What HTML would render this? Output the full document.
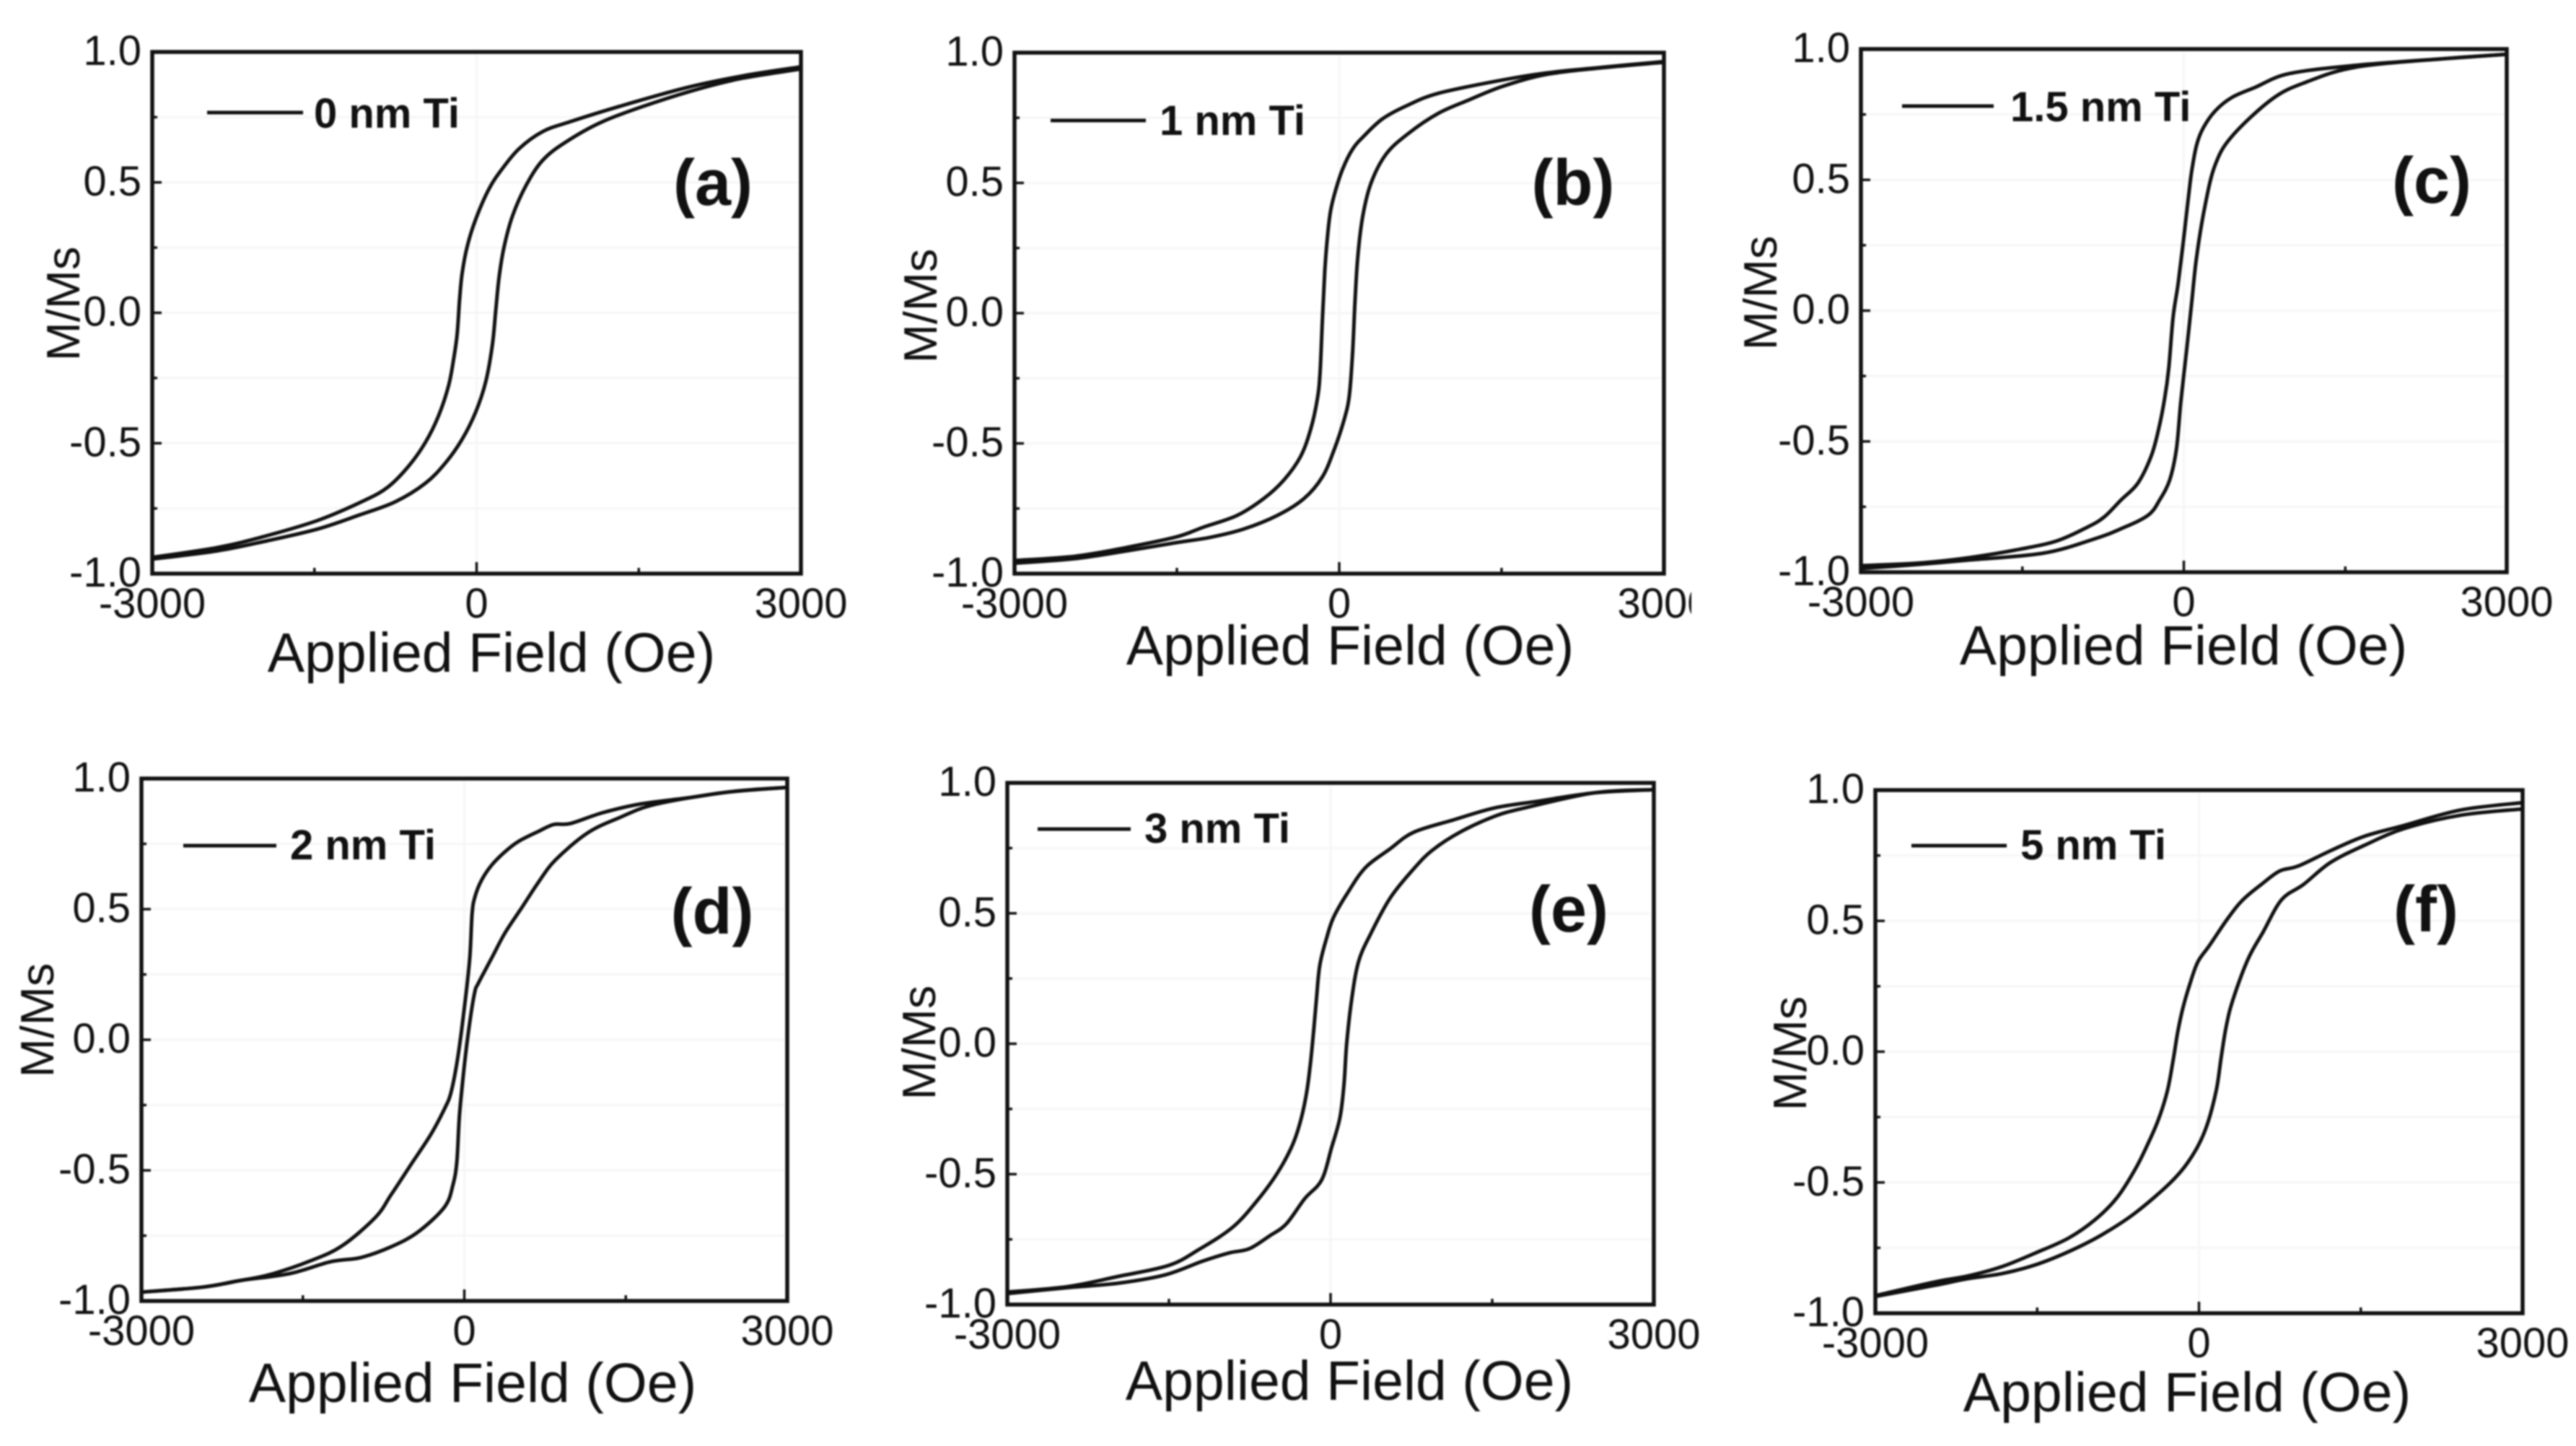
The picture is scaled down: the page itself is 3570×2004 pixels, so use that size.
<!DOCTYPE html>
<html lang="en">
<head>
<meta charset="utf-8">
<title>Hysteresis loops versus Ti thickness</title>
<style>
html,body{margin:0;padding:0;background:#fff;width:3570px;height:2004px;overflow:hidden}
svg{display:block;filter:blur(1.1px)}
text{font-family:"Liberation Sans",sans-serif;fill:#111}
</style>
</head>
<body>
<svg id="figure" xmlns="http://www.w3.org/2000/svg" width="3570" height="2004" viewBox="0 0 3570 2004"></svg>
<script>
// Shared axis data
const xTickValues = [-3000, 0, 3000];
const xTickLabels = ['-3000', '0', '3000'];
const xMinorValues = [-1500, 1500];
const yTickValues = [1, 0.5, 0, -0.5, -1];
const yTickLabels = ['1.0', '0.5', '0.0', '-0.5', '-1.0'];
const yMinorValues = [0.75, 0.25, -0.25, -0.75];
const gridValues = [0.75, 0.5, 0.25, 0, -0.25, -0.5, -0.75];

// Panel (a) 0 nm Ti
const fieldUpperA = [3000,2470,1948,1327,861,612,395,239,115,-9,-87,-134,-158,-180,-211,-258,-351,-475,-631,-817,-1035,-1470,-1998,-2402,-3000];
const momentUpperA = [0.943,0.909,0.864,0.792,0.732,0.695,0.63,0.553,0.475,0.358,0.254,0.15,0.047,-0.083,-0.174,-0.278,-0.394,-0.498,-0.589,-0.667,-0.719,-0.796,-0.861,-0.9,-0.938];
const fieldLowerA = [-3000,-2402,-1936,-1470,-1097,-755,-475,-289,-134,-9,84,146,177,208,255,332,457,612,830,1171,1637,2103,2470,3000];
const momentLowerA = [-0.944,-0.913,-0.874,-0.829,-0.777,-0.725,-0.654,-0.576,-0.485,-0.381,-0.265,-0.122,0.008,0.137,0.254,0.371,0.488,0.585,0.656,0.734,0.805,0.864,0.9,0.935];

// Panel (b) 1 nm Ti
const fieldUpperB = [3000,2430,1908,1443,915,636,403,233,124,31,-31,-78,-109,-133,-155,-177,-202,-264,-357,-512,-698,-946,-1257,-1505,-1970,-2436,-3000];
const momentUpperB = [0.966,0.944,0.922,0.89,0.844,0.799,0.747,0.682,0.63,0.553,0.475,0.397,0.293,0.163,-0.018,-0.226,-0.329,-0.446,-0.55,-0.641,-0.712,-0.777,-0.822,-0.859,-0.9,-0.933,-0.95];
const fieldLowerB = [-3000,-2436,-1970,-1505,-1195,-884,-574,-326,-155,-47,47,93,124,146,171,217,295,434,636,915,1195,1505,1908,2430,3000];
const momentLowerB = [-0.96,-0.942,-0.913,-0.881,-0.861,-0.829,-0.777,-0.712,-0.628,-0.524,-0.407,-0.316,-0.148,0.047,0.215,0.371,0.501,0.611,0.689,0.767,0.818,0.87,0.916,0.942,0.963];

// Panel (c) 1.5 nm Ti
const fieldUpperC = [3000,2437,1601,977,665,446,290,181,119,72,41,-6,-53,-100,-140,-178,-234,-303,-428,-584,-740,-896,-1177,-1520,-1988,-2456,-3000];
const momentUpperC = [0.98,0.964,0.938,0.906,0.854,0.815,0.763,0.699,0.634,0.53,0.427,0.259,0.103,-0.026,-0.22,-0.336,-0.453,-0.556,-0.66,-0.724,-0.789,-0.828,-0.88,-0.912,-0.944,-0.965,-0.975];
const fieldLowerC = [-3000,-2456,-1988,-1301,-833,-584,-334,-225,-131,-69,-28,25,72,119,197,290,446,821,1133,1601,2437,3000];
const momentLowerC = [-0.986,-0.97,-0.953,-0.927,-0.873,-0.834,-0.783,-0.724,-0.647,-0.53,-0.349,-0.155,0.026,0.207,0.401,0.556,0.666,0.809,0.873,0.931,0.964,0.98];

// Panel (d) 2 nm Ti
const fieldUpperD = [3000,2462,2094,1626,1283,986,830,690,502,378,253,159,97,72,50,3,-59,-122,-184,-309,-496,-683,-824,-1136,-1433,-1807,-2072,-2431,-3000];
const momentUpperD = [0.966,0.949,0.927,0.902,0.869,0.828,0.824,0.798,0.759,0.72,0.668,0.61,0.545,0.481,0.312,0.131,-0.063,-0.199,-0.264,-0.361,-0.478,-0.595,-0.679,-0.789,-0.847,-0.899,-0.921,-0.947,-0.966];
const fieldLowerD = [-3000,-2431,-2072,-1620,-1245,-964,-683,-434,-184,-106,-69,-44,3,50,97,128,253,378,534,690,846,1142,1439,1782,2462,3000];
const momentLowerD = [-0.966,-0.947,-0.921,-0.895,-0.85,-0.834,-0.793,-0.737,-0.64,-0.556,-0.465,-0.284,-0.089,0.066,0.183,0.215,0.312,0.409,0.506,0.604,0.688,0.791,0.85,0.902,0.949,0.966];

// Panel (e) 3 nm Ti
const fieldUpperE = [3000,2451,1927,1522,1147,773,555,321,150,25,-37,-100,-131,-156,-187,-224,-287,-365,-505,-692,-910,-1222,-1503,-1971,-2438,-3000];
const momentUpperE = [0.974,0.962,0.93,0.904,0.859,0.811,0.748,0.674,0.573,0.482,0.405,0.301,0.171,0.054,-0.075,-0.192,-0.309,-0.399,-0.503,-0.607,-0.704,-0.789,-0.85,-0.892,-0.931,-0.952];
const fieldLowerE = [-3000,-2438,-1971,-1534,-1191,-942,-755,-567,-412,-240,-84,9,87,125,150,196,259,368,555,773,945,1210,1522,1802,2451,3000];
const momentLowerE = [-0.958,-0.935,-0.918,-0.886,-0.834,-0.802,-0.786,-0.737,-0.691,-0.594,-0.523,-0.399,-0.283,-0.153,0.003,0.171,0.314,0.418,0.56,0.671,0.742,0.813,0.872,0.904,0.962,0.974];

// Panel (f) 5 nm Ti
const fieldUpperF = [3000,2426,1903,1529,1218,922,750,595,408,268,97,-12,-90,-153,-199,-240,-293,-371,-464,-589,-760,-962,-1211,-1523,-1834,-2146,-2457,-3000];
const momentUpperF = [0.952,0.924,0.865,0.823,0.768,0.71,0.691,0.645,0.581,0.51,0.406,0.342,0.251,0.16,0.07,-0.034,-0.15,-0.254,-0.344,-0.448,-0.558,-0.642,-0.713,-0.771,-0.823,-0.858,-0.881,-0.933];
const fieldLowerF = [-3000,-2457,-2146,-1834,-1523,-1211,-900,-589,-246,-59,65,159,206,252,315,455,595,766,968,1218,1529,1903,2426,3000];
const momentLowerF = [-0.936,-0.894,-0.868,-0.849,-0.816,-0.765,-0.7,-0.616,-0.493,-0.396,-0.292,-0.15,-0.021,0.096,0.199,0.354,0.458,0.581,0.639,0.723,0.788,0.853,0.904,0.928];

const panelLetters = ['a', 'b', 'c', 'd', 'e', 'f'];
const legendLabels = ['0 nm Ti', '1 nm Ti', '1.5 nm Ti', '2 nm Ti', '3 nm Ti', '5 nm Ti'];
const seriesUpperField = [fieldUpperA, fieldUpperB, fieldUpperC, fieldUpperD, fieldUpperE, fieldUpperF];
const seriesUpperMoment = [momentUpperA, momentUpperB, momentUpperC, momentUpperD, momentUpperE, momentUpperF];
const seriesLowerField = [fieldLowerA, fieldLowerB, fieldLowerC, fieldLowerD, fieldLowerE, fieldLowerF];
const seriesLowerMoment = [momentLowerA, momentLowerB, momentLowerC, momentLowerD, momentLowerE, momentLowerF];

// Page layout for each panel (not data)
const layouts = [
  {l:211, r:1110, t:72, b:795, tx:681, ty:931, yx:110, yy:421, lx1:287, lx2:420, ly:156, ltx:435, lty:177, px:988, py:284},
  {l:1406, r:2306, t:73, b:795, tx:1871, ty:921, yx:1298, yy:424, lx1:1456, lx2:1588, ly:167, ltx:1607, lty:187, px:2180, py:284},
  {l:2579, r:3474, t:68, b:793, tx:3026, ty:921, yx:2462, yy:406, lx1:2636, lx2:2763, ly:147, ltx:2786, lty:168, px:3370, py:281},
  {l:196, r:1091, t:1079, b:1803, tx:655, ty:1943, yx:74, yy:1414, lx1:254, lx2:383, ly:1172, ltx:402, lty:1191, px:987, py:1294},
  {l:1396, r:2292, t:1085, b:1808, tx:1870, ty:1940, yx:1296, yy:1445, lx1:1438, lx2:1567, ly:1149, ltx:1586, lty:1168, px:2174, py:1291},
  {l:2599, r:3496, t:1095, b:1820, tx:3031, ty:1956, yx:2503, yy:1460, lx1:2649, lx2:2781, ly:1172, ltx:2800, lty:1191, px:3362, py:1291}
];

const NS = 'http://www.w3.org/2000/svg';
const figure = document.getElementById('figure');

function make(parent, tag) {
  const el = document.createElementNS(NS, tag);
  parent.appendChild(el);
  return el;
}
function setLine(el, x1, y1, x2, y2, color, width) {
  el.setAttribute('x1', x1);
  el.setAttribute('y1', y1);
  el.setAttribute('x2', x2);
  el.setAttribute('y2', y2);
  el.setAttribute('stroke', color);
  el.setAttribute('stroke-width', width);
}
function setText(el, x, y, size, anchor, weight, content) {
  el.setAttribute('x', x);
  el.setAttribute('y', y);
  el.setAttribute('font-size', size);
  el.setAttribute('text-anchor', anchor);
  el.setAttribute('font-weight', weight);
  el.textContent = content;
}
function smoothPath(points) {
  let d = 'M' + points[0][0].toFixed(1) + ' ' + points[0][1].toFixed(1);
  for (let i = 0; i < points.length - 1; i++) {
    const p0 = points[Math.max(0, i - 1)];
    const p1 = points[i];
    const p2 = points[i + 1];
    const p3 = points[Math.min(points.length - 1, i + 2)];
    const c1x = p1[0] + (p2[0] - p0[0]) / 6;
    const c1y = p1[1] + (p2[1] - p0[1]) / 6;
    const c2x = p2[0] - (p3[0] - p1[0]) / 6;
    const c2y = p2[1] - (p3[1] - p1[1]) / 6;
    d += 'C' + c1x.toFixed(1) + ' ' + c1y.toFixed(1) + ' ' + c2x.toFixed(1) + ' ' + c2y.toFixed(1) + ' ' + p2[0].toFixed(1) + ' ' + p2[1].toFixed(1);
  }
  return d;
}

panelLetters.forEach(function (letter, index) {
  const box = layouts[index];
  const xScale = function (v) { return box.l + (v + 3000) / 6000 * (box.r - box.l); };
  const yScale = function (v) { return box.b - (v + 1) / 2 * (box.b - box.t); };

  const panel = make(figure, 'g');
  
  

  gridValues.forEach(function (value) {
    const grid = make(panel, 'line');
    
    
    setLine(grid, box.l + 4, yScale(value), box.r - 4, yScale(value), '#f6f6f6', 3);
  });
  const zeroGrid = make(panel, 'line');
  
  
  setLine(zeroGrid, xScale(0), box.t + 4, xScale(0), box.b - 4, '#f6f6f6', 3);

  const upper = make(panel, 'path');
  
  
  upper.setAttribute('d', smoothPath(seriesUpperField[index].map(function (f, i) {
    return [xScale(f), yScale(seriesUpperMoment[index][i])];
  })));
  upper.setAttribute('fill', 'none');
  upper.setAttribute('stroke', '#111');
  upper.setAttribute('stroke-width', '5');
  upper.setAttribute('stroke-linejoin', 'round');

  const lower = make(panel, 'path');
  
  
  lower.setAttribute('d', smoothPath(seriesLowerField[index].map(function (f, i) {
    return [xScale(f), yScale(seriesLowerMoment[index][i])];
  })));
  lower.setAttribute('fill', 'none');
  lower.setAttribute('stroke', '#111');
  lower.setAttribute('stroke-width', '5');
  lower.setAttribute('stroke-linejoin', 'round');

  const frame = make(panel, 'rect');
  
  
  frame.setAttribute('x', box.l);
  frame.setAttribute('y', box.t);
  frame.setAttribute('width', box.r - box.l);
  frame.setAttribute('height', box.b - box.t);
  frame.setAttribute('fill', 'none');
  frame.setAttribute('stroke', '#111');
  frame.setAttribute('stroke-width', '5.5');

  yTickValues.forEach(function (value, i) {
    const tick = make(panel, 'line');
    
    
    setLine(tick, box.l, yScale(value), box.l + 13, yScale(value), '#111', 3.5);
    const label = make(panel, 'text');
    
    
    setText(label, box.l - 15, yScale(value) + 18, 58, 'end', 'normal', yTickLabels[i]);
  });
  yMinorValues.forEach(function (value) {
    const tick = make(panel, 'line');
    
    
    setLine(tick, box.l, yScale(value), box.l + 7, yScale(value), '#111', 3.5);
  });
  xTickValues.forEach(function (value, i) {
    const tick = make(panel, 'line');
    
    
    setLine(tick, xScale(value), box.b, xScale(value), box.b - 16, '#111', 3.5);
    const label = make(panel, 'text');
    
    
    setText(label, xScale(value), box.b + 61, 58, 'middle', 'normal', xTickLabels[i]);
  });
  xMinorValues.forEach(function (value) {
    const tick = make(panel, 'line');
    
    
    setLine(tick, xScale(value), box.b, xScale(value), box.b - 8, '#111', 3.5);
  });

  const xTitle = make(panel, 'text');
  
  
  setText(xTitle, box.tx, box.ty, 77, 'middle', 'normal', 'Applied Field (Oe)');

  const yTitle = make(panel, 'text');
  
  
  setText(yTitle, 0, 0, 65, 'middle', 'normal', 'M/Ms');
  yTitle.setAttribute('transform', 'translate(' + box.yx + ' ' + box.yy + ') rotate(-90)');

  const legendLine = make(panel, 'line');
  
  
  setLine(legendLine, box.lx1, box.ly, box.lx2, box.ly, '#111', 5);

  const legendText = make(panel, 'text');
  
  
  setText(legendText, box.ltx, box.lty, 58, 'start', 'bold', legendLabels[index]);

  const letterLabel = make(panel, 'text');
  
  
  setText(letterLabel, box.px, box.py, 90, 'middle', 'bold', '(' + letter + ')');
});

// The reference crops the right tick label of panel (b)
const cropMask = make(figure, 'rect');


cropMask.setAttribute('x', 2344);
cropMask.setAttribute('y', 805);
cropMask.setAttribute('width', 60);
cropMask.setAttribute('height', 70);
cropMask.setAttribute('fill', '#fff');
</script>
</body>
</html>
